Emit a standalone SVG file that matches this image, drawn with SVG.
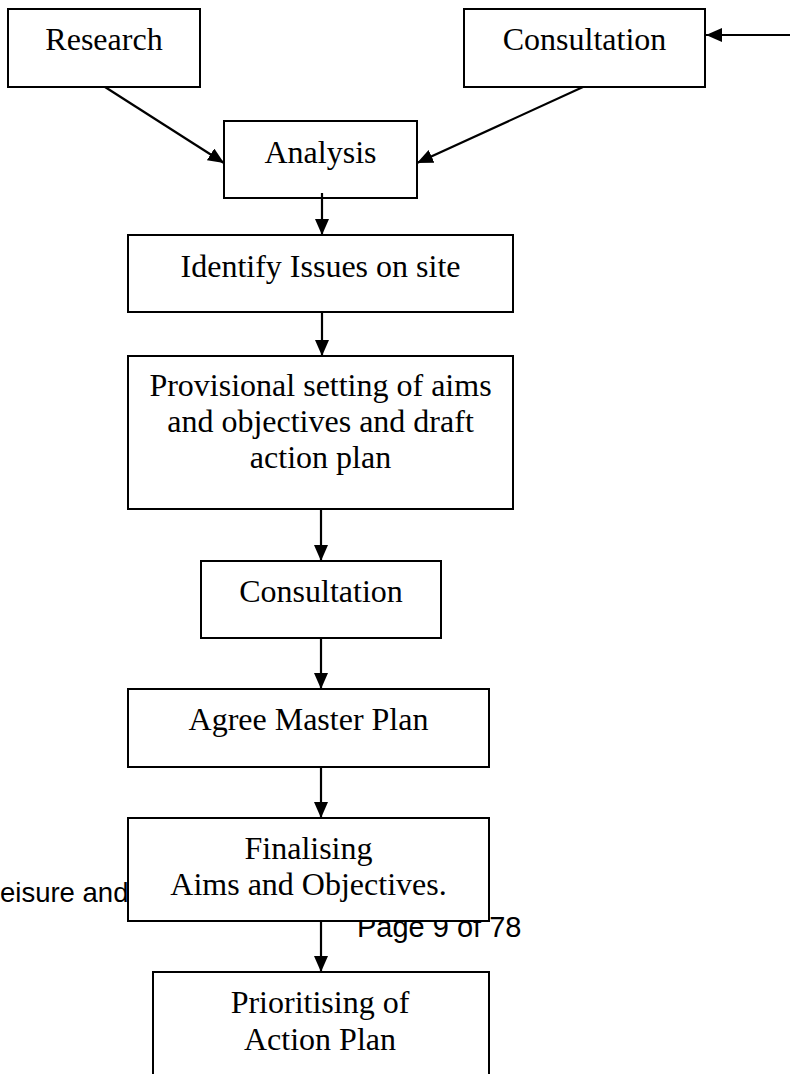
<svg xmlns="http://www.w3.org/2000/svg" width="790" height="1074" viewBox="0 0 790 1074">
  <style>
    .box { fill: #ffffff; stroke: #000000; stroke-width: 2; }
    .lbl { font-family: "Liberation Serif", "Times New Roman", serif; font-size: 32px; fill: #000000; text-anchor: middle; }
    .foot { font-family: "Liberation Sans", Arial, sans-serif; font-size: 29px; fill: #000000; }
    .conn { stroke: #000000; stroke-width: 2.2; fill: none; marker-end: url(#arrow); }
  </style>
  <defs>
    <marker id="arrow" markerUnits="userSpaceOnUse" markerWidth="16" markerHeight="14" viewBox="0 0 16 14" refX="16" refY="7" orient="auto">
      <path d="M0,0 L16,7 L0,14 Z" fill="#000000"/>
    </marker>
  </defs>
  <rect width="790" height="1074" fill="#ffffff"/>

  <!-- page footer text, partly hidden behind the boxes -->
  <g id="footer">
    <text class="foot" x="0" y="902" style="font-size:27.5px">eisure and</text>
    <text class="foot" x="357" y="937">Page 9 of 78</text>
  </g>

  <g id="research">
    <rect class="box" x="8" y="9" width="192" height="78"/>
    <text class="lbl" x="104" y="50">Research</text>
  </g>
  <g id="consultation-1">
    <rect class="box" x="464" y="9" width="241" height="78"/>
    <text class="lbl" x="584.5" y="50">Consultation</text>
  </g>
  <g id="analysis">
    <rect class="box" x="224" y="121" width="193" height="77"/>
    <text class="lbl" x="320.5" y="163">Analysis</text>
  </g>
  <g id="identify-issues">
    <rect class="box" x="128" y="235" width="385" height="77"/>
    <text class="lbl" x="320.5" y="277">Identify Issues on site</text>
  </g>
  <g id="provisional-aims">
    <rect class="box" x="128" y="356" width="385" height="153"/>
    <text class="lbl" x="320.5" y="396">Provisional setting of aims</text>
    <text class="lbl" x="320.5" y="432">and objectives and draft</text>
    <text class="lbl" x="320.5" y="468">action plan</text>
  </g>
  <g id="consultation-2">
    <rect class="box" x="201" y="561" width="240" height="77"/>
    <text class="lbl" x="321" y="602">Consultation</text>
  </g>
  <g id="agree-master-plan">
    <rect class="box" x="128" y="689" width="361" height="78"/>
    <text class="lbl" x="308.5" y="730">Agree Master Plan</text>
  </g>
  <g id="finalising">
    <rect class="box" x="128" y="818" width="361" height="103"/>
    <text class="lbl" x="308.5" y="859">Finalising</text>
    <text class="lbl" x="308.5" y="895">Aims and Objectives.</text>
  </g>
  <g id="prioritising">
    <rect class="box" x="153" y="972" width="336" height="112"/>
    <text class="lbl" x="320" y="1013">Prioritising of</text>
    <text class="lbl" x="320" y="1050">Action Plan</text>
  </g>

  <g id="connectors">
    <line class="conn" x1="790" y1="35" x2="706" y2="35"/>
    <line class="conn" x1="105" y1="87" x2="224" y2="163"/>
    <line class="conn" x1="583" y1="87" x2="417" y2="163"/>
    <line class="conn" x1="322" y1="193" x2="322" y2="235"/>
    <line class="conn" x1="322" y1="312" x2="322" y2="356"/>
    <line class="conn" x1="321" y1="509" x2="321" y2="561"/>
    <line class="conn" x1="321" y1="638" x2="321" y2="689"/>
    <line class="conn" x1="321" y1="767" x2="321" y2="818"/>
    <line class="conn" x1="321" y1="921" x2="321" y2="972"/>
  </g>
</svg>
